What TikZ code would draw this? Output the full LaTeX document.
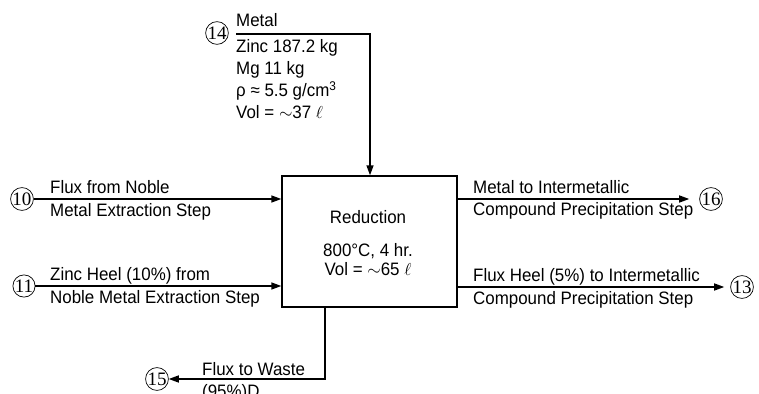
\documentclass[tikz,border=0pt]{standalone}
\usepackage{fontspec}
\setmainfont{Liberation Sans}[FakeStretch=0.94]
\newfontfamily\numfont{Liberation Serif}
\usetikzlibrary{arrows.meta}
\begin{document}
\begin{tikzpicture}[x=1pt,y=-1pt,
  lbl/.style={anchor=base west, inner sep=0pt, font=\fontsize{18}{20}\selectfont},
  ctr/.style={anchor=base, inner sep=0pt, font=\fontsize{18}{20}\selectfont},
  num/.style={circle, draw, line width=0.7pt, inner sep=0pt, minimum size=22pt, font=\numfont\fontsize{19}{19}\selectfont},
  flow/.style={line width=1.4pt, -{Triangle[length=10pt,width=7pt]}},
  ]
\useasboundingbox (0,0) rectangle (759,393);
% process box
\node[draw, line width=1.4pt, minimum width=175pt, minimum height=131pt, inner sep=0pt] (red) at (369.5,241.5) {};
\node[ctr] (t1) at (368,223) {Reduction};
\node[ctr] (t2) at (368,256) {800°C, 4 hr.};
\node[ctr] (t3) at (368,275.5) {Vol = $\sim$65 $\ell$};
% stream numbers
\node[num] (c14) at (217,33) {14};
\node[num] (c10) at (22,199) {10};
\node[num] (c11) at (24,286) {11};
\node[num] (c16) at (711,199) {16};
\node[num] (c13) at (742,287) {13};
\node[num] (c15) at (157,379) {15};
% connectors
\coordinate (s14) at (236,34);
\coordinate (k14) at (370,34);
\draw[flow] (s14) -- (k14) -- (k14 |- red.north);
\draw[flow] (c10.east) -- (c10.east -| red.west);
\draw[flow] (c11.east) -- (c11.east -| red.west);
\draw[flow, shorten >=10pt] (red.east |- c16.west) -- (c16.west);
\draw[flow, shorten >=6pt] (red.east |- c13.west) -- (c13.west);
\coordinate (b15) at (325,379);
\draw[flow] (red.south -| b15) -- (b15) -- (c15.east);
% labels
\node[lbl] (l14a) at (236,27) {Metal};
\node[lbl] (l14b) at (236,53) {Zinc 187.2 kg};
\node[lbl] (l14c) at (236,75) {Mg 11 kg};
\node[lbl] (l14d) at (236,97) {ρ ≈ 5.5 g/cm\textsuperscript{3}};
\node[lbl] (l14e) at (236,118) {Vol = $\sim$37 $\ell$};
\node[lbl] (l10a) at (50,193) {Flux from Noble};
\node[lbl] (l10b) at (50,216) {Metal Extraction Step};
\node[lbl] (l11a) at (50,280) {Zinc Heel (10\%) from};
\node[lbl] (l11b) at (50,303) {Noble Metal Extraction Step};
\node[lbl] (l16a) at (473,193) {Metal to Intermetallic};
\node[lbl] (l16b) at (473,215) {Compound Precipitation Step};
\node[lbl] (l13a) at (473,281) {Flux Heel (5\%) to Intermetallic};
\node[lbl] (l13b) at (473,304) {Compound Precipitation Step};
\node[lbl] (l15a) at (202,375) {Flux to Waste};
\node[lbl] (l15b) at (202,397) {(95\%)D};
\end{tikzpicture}
\end{document}
